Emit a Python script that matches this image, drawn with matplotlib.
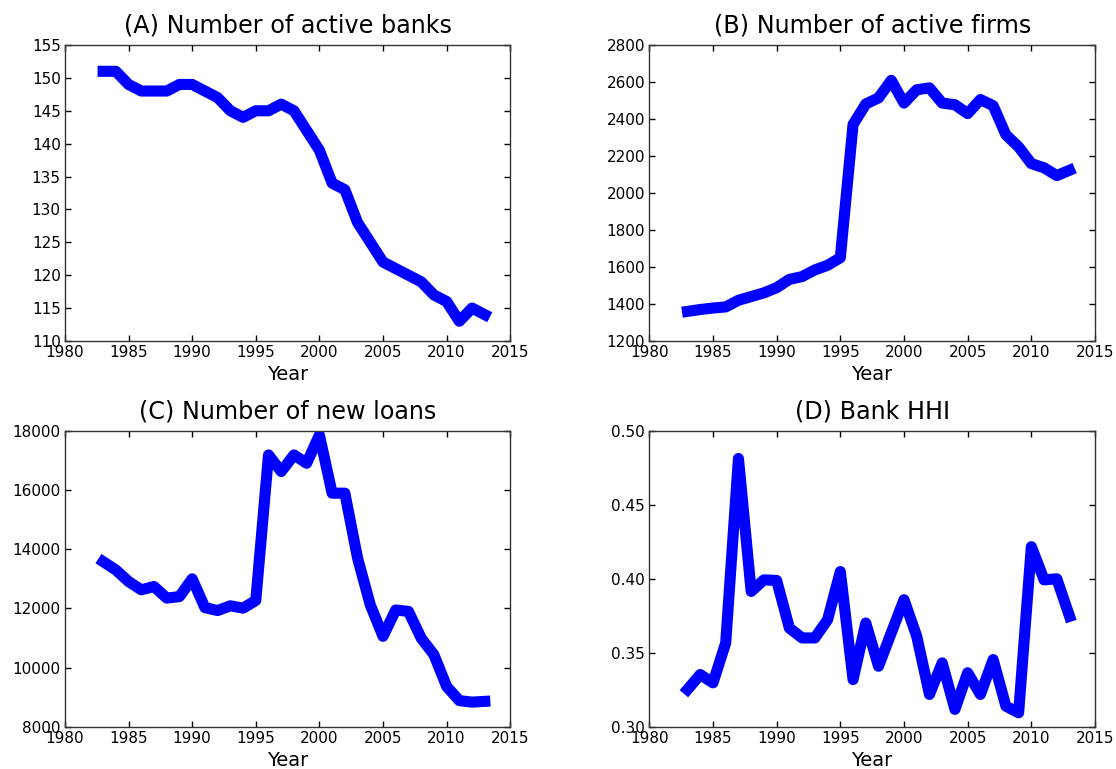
import matplotlib
matplotlib.use("Agg")
import matplotlib.pyplot as plt

years = list(range(1983, 2014))

banks = [151, 151, 149, 148, 148, 148, 149, 149, 148, 147, 145, 144, 145, 145, 146,
         145, 142, 139, 134, 133, 128, 125, 122, 121, 120, 119, 117, 116, 113, 115, 114]

firms = [1360, 1370, 1378, 1384, 1420, 1440, 1460, 1488, 1533, 1548, 1584, 1609, 1650,
         2370, 2481, 2514, 2609, 2486, 2558, 2568, 2486, 2477, 2429, 2505, 2472, 2315,
         2249, 2159, 2136, 2094, 2123]

loans = [13580, 13300, 12910, 12630, 12740, 12350, 12400, 13000, 12030, 11930, 12090,
         12010, 12270, 17180, 16620, 17180, 16900, 17850, 15890, 15890, 13700, 12120,
         11060, 11950, 11900, 11000, 10440, 9370, 8890, 8840, 8865]

hhi = [0.3253, 0.3354, 0.3298, 0.3567, 0.4812, 0.3915, 0.3993, 0.3989, 0.3668, 0.3601,
       0.3601, 0.3724, 0.4049, 0.3320, 0.3702, 0.3410, 0.3635, 0.3859, 0.3612, 0.3220,
       0.3433, 0.3119, 0.3366, 0.3220, 0.3455, 0.3141, 0.3096, 0.4217, 0.3993, 0.4000,
       0.3747]

titles = ["(A) Number of active banks", "(B) Number of active firms",
          "(C) Number of new loans", "(D) Bank HHI"]
series = [banks, firms, loans, hhi]
ylims = [(110, 155), (1200, 2800), (8000, 18000), (0.30, 0.50)]
yticks = [list(range(110, 156, 5)), list(range(1200, 2801, 200)),
          list(range(8000, 18001, 2000)), [0.30, 0.35, 0.40, 0.45, 0.50]]
xticks = list(range(1980, 2016, 5))

fig = plt.figure(figsize=(11.16, 7.69), dpi=100)
positions = [
    [0.0582, 0.5566, 0.3990, 0.3849],
    [0.5818, 0.5566, 0.3994, 0.3849],
    [0.0582, 0.0546, 0.3990, 0.3854],
    [0.5818, 0.0546, 0.3994, 0.3854],
]

for pos, title, ys, yl, yt in zip(positions, titles, series, ylims, yticks):
    ax = fig.add_axes(pos)
    ax.plot(years, ys, color="#0000ff", linewidth=8, solid_capstyle="projecting",
            solid_joinstyle="round")
    ax.set_xlim(1980, 2015)
    ax.set_ylim(*yl)
    ax.set_xticks(xticks)
    ax.set_yticks(yt)
    if yl[1] < 1:
        ax.set_yticklabels([f"{v:.2f}" for v in yt])
    ax.tick_params(direction="in", length=4, width=1, top=True, right=True,
                   labelsize=11, colors="black", pad=3)
    for s in ax.spines.values():
        s.set_linewidth(1)
        s.set_color("#333333")
    ax.set_xlabel("Year", fontsize=14, labelpad=3.5)
    ax.set_title(title, fontsize=17.2, pad=9)

fig.savefig("out.png", dpi=100)
